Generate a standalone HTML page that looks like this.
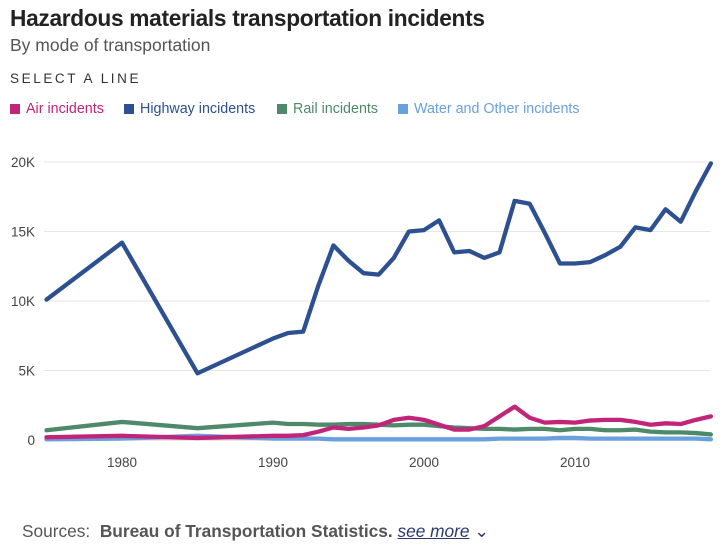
<!DOCTYPE html>
<html><head><meta charset="utf-8"><style>
body{margin:0;width:728px;height:550px;background:#fff;font-family:"Liberation Sans",sans-serif;overflow:hidden;position:relative}
.t{position:absolute;left:10px;top:5px;font-size:22.7px;font-weight:bold;color:#222;letter-spacing:-0.3px}
.s{position:absolute;left:10px;top:35px;font-size:17.5px;color:#555}
.sel{position:absolute;left:10px;top:71px;font-size:13.5px;color:#333;letter-spacing:2.6px}
.leg{position:absolute;top:101px;font-size:14.3px;display:flex;align-items:center}
.leg i{display:inline-block;width:10px;height:10px;margin-right:6px}
.src{position:absolute;left:22px;top:521px;font-size:17.3px;color:#555}
</style></head><body>
<div class="t">Hazardous materials transportation incidents</div>
<div class="s">By mode of transportation</div>
<div class="sel">SELECT A LINE</div>
<div class="leg" style="left:10px;color:#c0257a"><i style="background:#c0257a"></i>Air incidents</div>
<div class="leg" style="left:124px;color:#2c5090"><i style="background:#2c5090"></i>Highway incidents</div>
<div class="leg" style="left:277px;color:#4e8a6a"><i style="background:#4e8a6a"></i>Rail incidents</div>
<div class="leg" style="left:398px;color:#6aa0dc"><i style="background:#6aa0dc"></i>Water and Other incidents</div>
<svg id="c" width="728" height="550" style="position:absolute;left:0;top:0"></svg>
<div class="src">Sources: &nbsp;<b>Bureau of Transportation Statistics.</b> <span style="font-style:italic;text-decoration:underline;color:#2c3a70">see more</span> <span style="color:#2c3a70">&#8964;</span></div>
<script>
const years=[1975,1980,1985,1990,1991,1992,1993,1994,1995,1996,1997,1998,1999,2000,2001,2002,2003,2004,2005,2006,2007,2008,2009,2010,2011,2012,2013,2014,2015,2016,2017,2018,2019];
const highway=[10.1,14.2,4.8,7.3,7.7,7.8,11.1,14.0,12.9,12.0,11.9,13.1,15.0,15.1,15.8,13.5,13.6,13.1,13.5,17.2,17.0,14.9,12.7,12.7,12.8,13.3,13.9,15.3,15.1,16.6,15.7,17.9,19.9];
const air=[0.2,0.3,0.15,0.3,0.3,0.35,0.6,0.9,0.8,0.9,1.05,1.45,1.6,1.45,1.1,0.75,0.75,1.0,1.7,2.4,1.6,1.25,1.3,1.25,1.4,1.45,1.45,1.3,1.1,1.2,1.15,1.45,1.7];
const rail=[0.7,1.3,0.85,1.25,1.15,1.15,1.1,1.1,1.15,1.15,1.1,1.05,1.1,1.1,1.0,0.9,0.85,0.8,0.8,0.75,0.8,0.8,0.7,0.8,0.8,0.7,0.7,0.75,0.6,0.55,0.55,0.5,0.4];
const water=[0.05,0.1,0.3,0.1,0.1,0.1,0.1,0.05,0.05,0.05,0.05,0.05,0.05,0.05,0.05,0.05,0.05,0.05,0.1,0.1,0.1,0.1,0.15,0.15,0.1,0.1,0.1,0.1,0.1,0.1,0.1,0.1,0.05];
const yTicks=[0,5,10,15,20];
const xTicks=[1980,1990,2000,2010];
const svg=document.getElementById('c');const NS='http://www.w3.org/2000/svg';
const X=y=>46.5+(y-1975)*15.1, Y=v=>440-v*13.9;
function mk(t,a){const e=document.createElementNS(NS,t);for(const k in a)e.setAttribute(k,a[k]);svg.appendChild(e);return e;}
yTicks.forEach(v=>{
 const g=mk('line',{x1:44,x2:710,y1:Y(v),y2:Y(v),stroke:v?'#e6e6e6':'#ccc','stroke-width':1});
 
 
 const t=mk('text',{x:35,y:Y(v)+5,'text-anchor':'end','font-size':13.5,fill:'#444','font-family':'Liberation Sans'});
 t.textContent=v?v+'K':'0';
 
 
});
xTicks.forEach(y=>{
 const t=mk('text',{x:X(y),y:467,'text-anchor':'middle','font-size':13.5,fill:'#444','font-family':'Liberation Sans'});
 t.textContent=y;
 
 
});
[[water,'#6aa0dc','water-line'],[rail,'#4e8a6a','rail-line'],[air,'#c0257a','air-line'],[highway,'#2c5090','highway-line']].forEach(([d,c,n])=>{
 const p=mk('polyline',{points:d.map((v,i)=>X(years[i])+','+Y(v)).join(' '),fill:'none',stroke:c,'stroke-width':4.3,'stroke-linejoin':'round','stroke-linecap':'round'});
 
 
});
</script>
</body></html>
